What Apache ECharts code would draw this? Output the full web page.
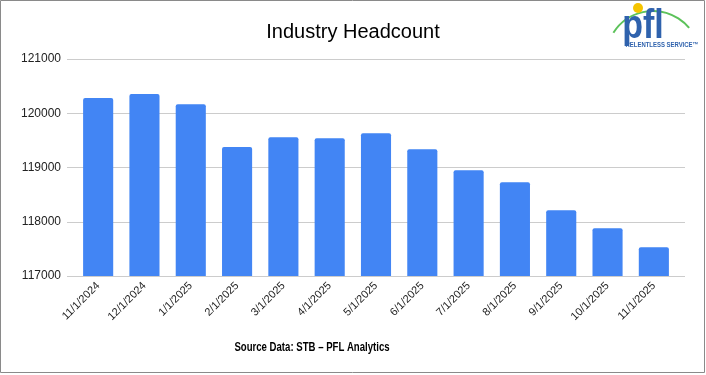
<!DOCTYPE html>
<html>
<head>
<meta charset="utf-8">
<script src="https://cdn.jsdelivr.net/npm/echarts@6/dist/echarts.min.js"></script>
<style>
html,body{margin:0;padding:0;background:#fff;}
#c{width:706px;height:375px;}
</style>
</head>
<body>
<div id="c"></div>
<script>
var categories = ['11/1/2024','12/1/2024','1/1/2025','2/1/2025','3/1/2025','4/1/2025','5/1/2025','6/1/2025','7/1/2025','8/1/2025','9/1/2025','10/1/2025','11/1/2025'];
var headcount = [120280, 120355, 120165, 119378, 119557, 119538, 119630, 119335, 118948, 118727, 118211, 117879, 117529];
var yMin = 117000, yMax = 121000, yStep = 1000;
var titleText = 'Industry Headcount';
var sourceText = 'Source Data: STB \u2013 PFL Analytics';

var font = 'Liberation Sans, Arial, sans-serif';
var chart = echarts.init(document.getElementById('c'), null, {renderer:'canvas'});
chart.setOption({
  backgroundColor:'#fff',
  animation:false,
  title:{text:titleText,left:'center',top:17,textStyle:{fontFamily:font,fontSize:20,fontWeight:'normal',color:'#000'}},
  grid:[
    {left:67,right:21,top:59,bottom:99},
    {left:75,right:29,top:59,bottom:99}
  ],
  xAxis:[
    {type:'value',gridIndex:0,show:false,min:0,max:1},
    {type:'category',gridIndex:1,data:categories,
      axisLine:{show:false},axisTick:{show:false},
      axisLabel:{rotate:45,interval:0,margin:8,fontFamily:font,fontSize:11,color:'#222'}}
  ],
  yAxis:[
    {type:'value',gridIndex:0,min:yMin,max:yMax,interval:yStep,
      axisLine:{show:false},axisTick:{show:false},
      splitLine:{lineStyle:{color:'#cccccc'}},
      axisLabel:{margin:6,fontFamily:font,fontSize:12,color:'#222',formatter:function(v){return String(v);}}},
    {type:'value',gridIndex:1,min:yMin,max:yMax,interval:yStep,show:false,splitLine:{show:false}}
  ],
  series:[{type:'bar',xAxisIndex:1,yAxisIndex:1,data:headcount,barCategoryGap:'35%',
    itemStyle:{color:'#4285F4',borderRadius:[2,2,0,0]}}],
  graphic:[
    {type:'rect',shape:{x:0.5,y:0.5,width:704,height:372},style:{fill:'none',stroke:'#8a8a8a',lineWidth:1},z:-1},
    {type:'text',x:312,y:348,scaleX:0.8,style:{text:sourceText,textAlign:'center',textVerticalAlign:'middle',font:'bold 12px "Liberation Sans", Arial, sans-serif',fill:'#000'}},
    {type:'arc',shape:{cx:653,cy:58,r:47,startAngle:3.71,endAngle:5.59},style:{stroke:'#5cc25a',lineWidth:2,fill:'none'}},
    {type:'circle',shape:{cx:638,cy:8,r:5},style:{fill:'#f5c400'}},
    {type:'text',x:643,y:27,scaleX:0.85,style:{text:'pfl',textAlign:'center',textVerticalAlign:'middle',font:'bold 40px "Liberation Sans", Arial, sans-serif',fill:'#2f62ad'}},
    {type:'text',x:662,y:45,scaleX:0.85,style:{text:'RELENTLESS SERVICE\u2122',textAlign:'center',textVerticalAlign:'middle',font:'bold 7px "Liberation Sans", sans-serif',fill:'#2f62ad'}}
  ]
});
</script>
</body>
</html>
